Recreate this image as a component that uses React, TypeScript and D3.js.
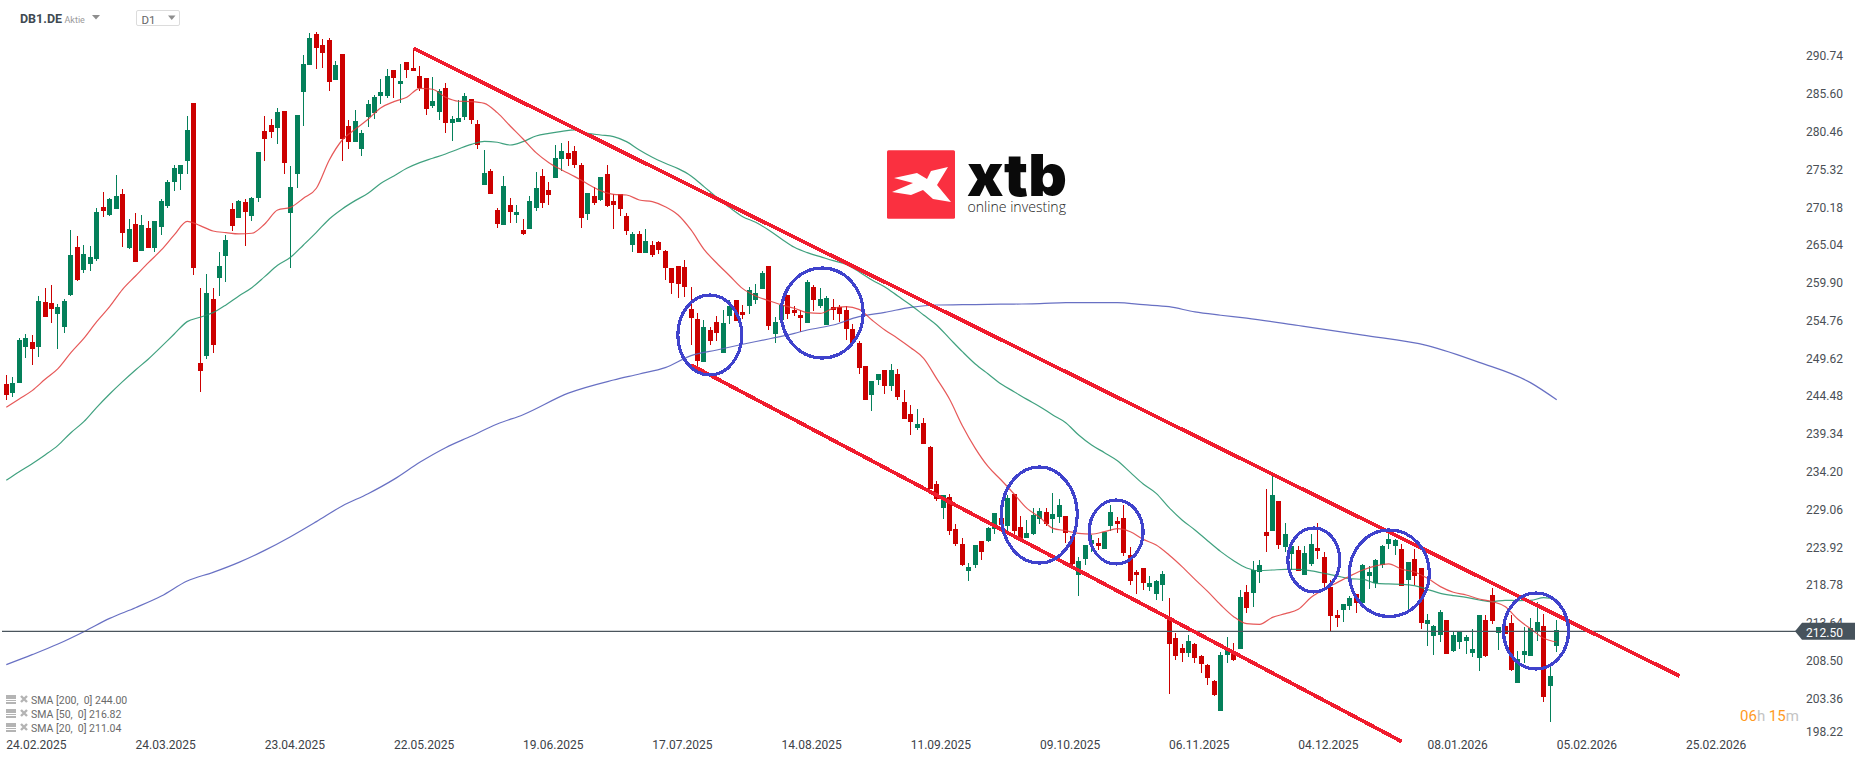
import * as d3 from 'd3';

const width = 1866;
const height = 761;

// daily candles
const opens = [
    246.15, 244.92, 246.28, 251.18, 251.86, 251.18, 257.3, 257.17, 255.67, 253.9,
    258.26, 264.79, 261.66, 262.47, 263.15, 270.23, 269.14, 269.96, 272.0, 264.65,
    267.92, 264.24, 267.37, 264.65, 267.51, 270.36, 273.63, 274.72, 276.49, 284.38,
    249.0, 249.96, 257.71, 260.57, 263.56, 269.96, 268.73, 270.91, 269.0, 271.45,
    280.57, 281.38, 280.98, 283.29, 269.41, 274.72, 285.87, 289.55, 293.77, 292.27,
    292.95, 287.51, 291.04, 281.25, 279.07, 278.12, 282.47, 283.02, 285.33, 285.33,
    288.87, 286.96, 289.96, 289.14, 288.05, 287.78, 283.97, 283.15, 286.42, 281.66,
    281.79, 282.47, 284.92, 281.52, 273.22, 275.13, 269.82, 267.78, 270.5, 269.14,
    267.1, 267.24, 270.09, 274.45, 272.54, 274.18, 276.76, 277.58, 277.85, 275.94,
    269.28, 271.73, 271.18, 274.72, 271.05, 272.0, 269.01, 265.06, 266.56, 263.97,
    265.06, 265.47, 264.24, 261.93, 262.2, 262.07, 256.35, 254.99, 249.14, 253.5,
    254.58, 250.37, 255.4, 257.58, 255.94, 256.76, 257.58, 259.07, 262.2, 252.95,
    254.86, 258.26, 256.22, 255.54, 254.44, 259.34, 256.75, 254.17, 256.62, 256.62,
    256.21, 253.62, 251.72, 248.59, 244.64, 246.68, 248.05, 245.87, 247.5, 243.69,
    242.06, 240.15, 240.84, 237.57, 232.54, 229.27, 230.77, 226.41, 224.37, 220.7,
    221.52, 224.78, 224.78, 226.41, 227.91, 226.82, 231.18, 226.69, 225.19, 225.73,
    227.77, 228.73, 227.77, 228.05, 228.18, 225.46, 220.16, 222.33, 224.37, 224.51,
    223.69, 226.82, 227.5, 227.91, 222.88, 220.56, 221.11, 218.52, 217.57, 218.79,
    214.31, 211.59, 210.23, 209.55, 210.78, 209.14, 207.92, 205.74, 201.66, 209.28,
    209.69, 210.1, 217.85, 217.71, 220.57, 226.01, 226.15, 230.23, 223.97, 223.02,
    223.56, 220.16, 221.66, 223.84, 222.61, 218.53, 214.72, 215.4, 215.95, 217.58,
    216.35, 220.03, 219.08, 221.52, 224.38, 224.11, 223.7, 219.48, 222.34, 221.12,
    213.5, 211.86, 212.0, 214.04, 209.82, 211.05, 211.18, 209.55, 208.87, 214.04,
    217.44, 212.27, 213.23, 213.63, 205.47, 209.28, 209.14, 212.41, 213.23, 205.06, 210.5
];
const closes = [
    244.65, 246.28, 252.13, 252.41, 250.91, 257.44, 255.26, 256.35, 256.62, 257.44,
    263.7, 260.3, 263.83, 263.43, 269.55, 269.68, 271.32, 271.73, 266.69, 267.24,
    262.75, 267.78, 264.65, 268.32, 271.05, 273.63, 275.53, 275.94, 280.7, 261.93,
    247.92, 258.53, 251.45, 262.2, 265.74, 267.64, 271.05, 269.55, 271.45, 277.71,
    279.48, 280.43, 283.15, 276.22, 272.95, 282.75, 289.68, 293.22, 291.86, 291.18,
    287.23, 289.55, 279.48, 279.07, 281.93, 280.3, 284.24, 285.19, 285.87, 288.05,
    287.78, 287.37, 288.87, 288.73, 286.42, 283.56, 284.65, 286.01, 281.66, 282.2,
    282.34, 285.33, 282.07, 278.66, 274.86, 272.0, 267.92, 273.09, 269.55, 269.55,
    266.56, 271.05, 272.81, 270.77, 271.86, 276.9, 277.85, 276.76, 275.94, 268.73,
    272.13, 270.77, 274.31, 270.37, 270.5, 269.96, 266.96, 266.56, 263.97, 265.6,
    263.7, 264.38, 261.93, 259.89, 259.75, 259.35, 255.13, 249.28, 253.9, 252.0,
    253.09, 254.45, 256.76, 254.72, 255.54, 258.94, 258.53, 261.25, 254.04, 254.58,
    256.9, 255.67, 255.81, 255.13, 260.06, 257.57, 257.71, 257.84, 256.21, 255.66,
    253.62, 251.67, 248.32, 243.96, 246.55, 247.5, 245.87, 248.05, 244.37, 241.38,
    240.97, 240.7, 237.98, 231.86, 230.49, 231.04, 226.14, 224.37, 221.52, 221.24,
    224.24, 223.28, 226.55, 228.59, 226.96, 230.63, 226.14, 225.19, 225.87, 228.32,
    228.86, 227.09, 228.45, 229.68, 225.87, 221.65, 222.06, 224.24, 224.92, 224.1,
    226.01, 228.73, 227.09, 223.15, 219.34, 220.16, 219.07, 219.07, 219.34, 220.29,
    210.78, 209.14, 209.55, 211.18, 208.87, 208.05, 206.15, 203.84, 209.28, 210.23,
    208.6, 217.17, 215.67, 220.84, 221.52, 225.47, 231.05, 224.24, 225.74, 224.11,
    220.71, 223.16, 224.38, 223.43, 219.08, 214.59, 214.31, 216.22, 217.03, 216.35,
    221.52, 220.57, 222.2, 224.11, 225.06, 224.93, 218.67, 221.93, 220.03, 213.63,
    214.04, 213.23, 215.13, 209.42, 212.0, 212.41, 211.73, 210.1, 214.72, 209.14,
    213.91, 213.09, 212.14, 207.24, 208.74, 209.82, 212.95, 213.77, 203.57, 206.42, 212.68
];
const highs = [
    247.37, 247.05, 252.36, 252.95, 252.81, 258.12, 259.21, 259.62, 257.03, 257.71,
    267.1, 266.28, 265.06, 264.92, 270.09, 272.27, 271.45, 274.58, 272.68, 268.6,
    269.41, 269.14, 268.32, 268.32, 271.32, 273.9, 275.94, 275.94, 282.61, 284.38,
    259.21, 261.11, 259.21, 264.11, 266.42, 270.77, 271.18, 271.32, 271.59, 277.71,
    282.61, 282.2, 283.7, 283.29, 275.81, 282.75, 290.91, 293.9, 294.04, 293.09,
    293.22, 290.09, 291.04, 282.06, 283.43, 280.7, 284.79, 285.47, 287.64, 289.0,
    288.87, 289.68, 289.96, 291.86, 289.41, 287.78, 287.92, 286.28, 287.1, 282.61,
    284.79, 285.74, 284.92, 282.07, 277.98, 275.4, 270.09, 274.45, 271.45, 270.5,
    268.6, 271.73, 274.99, 275.4, 273.63, 278.66, 278.94, 279.21, 278.53, 276.22,
    272.13, 272.95, 274.31, 275.94, 272.0, 272.0, 269.41, 266.83, 266.96, 267.24,
    265.6, 265.6, 264.38, 261.93, 262.2, 263.02, 259.35, 255.81, 254.86, 253.9,
    255.4, 256.22, 257.58, 257.58, 256.9, 259.35, 259.75, 261.52, 262.2, 255.26,
    257.71, 258.26, 256.76, 256.22, 260.29, 259.61, 259.2, 258.11, 257.71, 256.89,
    256.75, 254.3, 251.99, 248.59, 246.55, 247.5, 248.05, 248.86, 248.18, 245.32,
    243.28, 242.74, 241.52, 237.71, 232.94, 231.04, 231.18, 227.09, 225.19, 221.79,
    224.24, 224.78, 226.69, 228.59, 227.91, 231.04, 231.18, 228.18, 227.64, 229.27,
    229.27, 229.27, 231.31, 230.49, 228.18, 225.46, 222.6, 224.24, 225.6, 225.19,
    226.01, 229.68, 228.05, 229.68, 223.96, 220.84, 221.11, 220.02, 219.47, 220.7,
    217.03, 212.27, 210.78, 212.0, 210.91, 209.28, 208.05, 205.88, 209.69, 211.73,
    210.91, 218.12, 218.8, 222.07, 222.2, 231.86, 233.77, 230.23, 227.24, 224.11,
    224.11, 224.11, 225.74, 227.24, 223.29, 219.48, 215.4, 216.22, 217.31, 217.58,
    221.66, 221.39, 222.34, 224.25, 225.88, 225.06, 224.38, 221.93, 223.7, 221.12,
    214.86, 213.36, 215.4, 214.04, 212.41, 212.41, 212.0, 212.82, 214.72, 214.72,
    218.4, 213.09, 213.77, 214.72, 209.82, 213.09, 214.31, 216.49, 214.86, 207.92, 214.04
];
const lows = [
    243.97, 244.42, 246.28, 249.73, 248.73, 249.82, 255.26, 254.45, 250.91, 253.09,
    258.12, 260.16, 261.25, 261.52, 262.88, 268.87, 269.0, 269.96, 264.79, 264.51,
    262.75, 264.24, 264.65, 264.11, 266.42, 270.09, 272.41, 272.54, 274.72, 260.98,
    245.06, 249.55, 250.37, 258.12, 260.02, 266.96, 268.73, 264.92, 268.32, 270.91,
    276.49, 279.62, 278.8, 274.72, 261.93, 272.81, 281.25, 289.55, 289.0, 289.14,
    286.01, 287.51, 276.49, 278.12, 279.07, 277.17, 281.11, 282.2, 284.24, 285.06,
    285.06, 284.33, 287.78, 288.73, 286.01, 282.75, 283.7, 282.07, 280.3, 279.21,
    281.79, 282.07, 281.52, 278.12, 273.22, 272.0, 267.37, 267.78, 268.05, 268.05,
    266.42, 267.24, 269.69, 270.09, 270.5, 274.18, 275.13, 275.81, 275.54, 267.37,
    268.46, 270.5, 271.05, 270.23, 267.24, 269.01, 266.42, 264.11, 263.97, 263.97,
    263.43, 263.84, 260.3, 258.39, 257.85, 257.99, 251.45, 248.6, 249.14, 251.45,
    252.0, 250.37, 254.31, 254.72, 254.99, 255.67, 257.03, 259.07, 253.5, 251.73,
    254.31, 254.99, 255.4, 253.26, 254.44, 256.07, 256.48, 254.17, 254.85, 254.58,
    252.13, 251.67, 247.5, 243.96, 242.47, 246.0, 244.78, 245.19, 243.96, 241.38,
    239.2, 239.88, 237.98, 231.86, 230.22, 227.77, 225.6, 224.1, 221.38, 219.34,
    221.11, 222.2, 224.64, 225.73, 226.28, 225.6, 225.46, 225.19, 225.19, 225.6,
    227.09, 226.82, 225.87, 227.23, 224.51, 221.52, 217.3, 221.52, 223.28, 223.56,
    223.69, 226.14, 225.87, 222.74, 218.79, 217.57, 218.11, 217.98, 216.75, 216.63,
    203.97, 208.6, 208.33, 209.01, 208.19, 206.83, 205.2, 203.7, 201.66, 208.19,
    208.46, 210.1, 214.99, 215.81, 219.08, 223.29, 226.15, 223.7, 223.29, 220.84,
    220.71, 220.16, 221.39, 222.34, 218.53, 212.54, 213.09, 213.77, 215.4, 214.99,
    216.35, 218.26, 218.4, 221.12, 223.7, 222.88, 218.67, 215.54, 218.8, 212.82,
    210.5, 209.28, 211.05, 209.42, 209.69, 210.1, 209.42, 209.01, 207.1, 209.01,
    213.5, 209.96, 212.14, 207.1, 205.47, 208.19, 209.14, 211.18, 202.89, 200.16, 209.69
];

// moving averages, one reading every second bar
const sma20 = [
    242.97, 244.11, 245.24, 246.78, 248.23, 250.41, 252.36, 254.63, 256.67, 259.03,
    260.84, 262.66, 264.38, 266.42, 268.28, 267.69, 266.96, 266.74, 266.56, 266.65,
    267.92, 269.82, 270.18, 271.41, 272.77, 276.62, 279.34, 280.8, 282.16, 283.74,
    284.56, 285.15, 286.37, 286.24, 285.15, 284.61, 284.56, 284.33, 283.06, 281.25,
    279.48, 277.62, 276.26, 275.26, 274.36, 273.36, 272.45, 271.95, 271.86, 271.18,
    270.95, 270.27, 269.14, 267.1, 264.47, 262.57, 260.84, 259.12, 258.12, 257.49,
    256.9, 256.45, 255.85, 255.75, 256.44, 256.66, 256.3, 254.85, 253.49, 252.35,
    251.08, 249.63, 246.91, 244.1, 240.47, 237.39, 234.89, 233.08, 231.18, 229.22,
    228.0, 226.5, 226.19, 225.82, 225.73, 226.05, 226.46, 226.05, 225.01, 224.24,
    222.88, 221.3, 219.57, 217.9, 216.08, 214.49, 213.54, 213.45, 214.4, 214.9,
    215.49, 217.12, 218.21, 219.12, 220.03, 220.84, 221.39, 221.66, 220.94, 220.57,
    219.71, 218.58, 217.81, 217.44, 216.9, 216.54, 215.86, 214.13, 212.82, 211.55, 211.04
];
const sma50 = [
    233.04, 234.22, 235.31, 236.49, 237.8, 239.52, 241.02, 242.97, 244.78, 246.46,
    248.05, 249.55, 251.23, 252.95, 254.63, 255.22, 255.85, 256.9, 258.12, 259.25,
    260.75, 262.29, 263.38, 265.06, 266.78, 268.6, 269.96, 271.09, 272.09, 273.45,
    274.45, 275.49, 276.26, 276.85, 277.44, 278.12, 278.75, 279.16, 279.03, 278.66,
    279.12, 279.89, 280.25, 280.52, 280.71, 280.25, 280.02, 279.8, 279.12, 277.98,
    276.99, 276.17, 275.44, 274.45, 273.0, 271.54, 270.14, 268.91, 268.14, 267.1,
    265.88, 264.74, 264.01, 263.47, 262.92, 262.42, 261.43, 260.29, 259.34, 258.11,
    256.89, 255.53, 254.17, 252.35, 250.54, 248.86, 247.5, 246.14, 245.1, 244.05,
    243.06, 241.92, 240.88, 239.2, 237.84, 236.8, 235.71, 234.12, 232.53, 231.27,
    229.32, 227.65, 226.29, 224.79, 223.34, 222.11, 221.12, 220.75, 220.84, 220.93,
    220.93, 220.71, 220.39, 220.03, 219.66, 219.57, 219.03, 218.94, 218.89, 218.71,
    218.21, 217.67, 217.35, 217.12, 216.76, 216.54, 216.72, 216.67, 216.72, 217.08, 216.82
];
const smaBars = d3.range(0, 241, 2);

const sma200Bars = [
    0, 4, 8, 12, 16, 20, 24, 28, 32, 36, 40, 44, 48, 52, 56, 60, 64, 68, 72, 76, 80, 87, 94, 98, 102, 106, 110,
    114, 118, 122, 124, 128, 132, 136, 140, 144, 148, 152, 156, 160, 164, 168, 172, 176, 180, 184, 188, 192,
    200, 210, 220, 228, 236, 240
];
const sma200 = [
    207.96, 209.32, 210.77, 212.45, 214.26, 215.71, 217.3, 219.34, 220.52, 221.88, 223.51, 225.37, 227.42,
    229.55, 231.22, 233.17, 235.49, 237.48, 239.07, 240.7, 241.97, 244.9, 246.69, 247.51, 248.37, 250.0,
    250.77, 251.55, 252.27, 253.04, 253.49, 254.17, 255.3, 255.89, 256.57, 256.89, 256.93, 256.98, 257.02,
    257.07, 257.21, 257.21, 257.21, 256.93, 256.66, 255.95, 255.5, 255.1, 254.1, 252.8, 251.37, 249.09,
    246.3, 244.0
];

const lastPrice = 212.5;
const priceTicks = [
    290.74, 285.6, 280.46, 275.32, 270.18, 265.04, 259.9, 254.76, 249.62, 244.48, 239.34, 234.2, 229.06, 223.92,
    218.78, 213.64, 208.5, 203.36, 198.22
];
const dateLabels = [
    '24.02.2025', '24.03.2025', '23.04.2025', '22.05.2025', '19.06.2025', '17.07.2025', '14.08.2025',
    '11.09.2025', '09.10.2025', '06.11.2025', '04.12.2025', '08.01.2026', '05.02.2026', '25.02.2026'
];
const legendLabels = ['SMA [200,  0] 244.00', 'SMA [50,  0] 216.82', 'SMA [20,  0] 211.04'];

// hand drawn channel, [bar, price] at both ends
const upperChannelBars = [63, 259];
const upperChannelPrices = [291.82, 206.42];
const lowerChannelBars = [106, 216];
const lowerChannelPrices = [248.73, 197.5];

// hand drawn circles
const circleBars = [108.9, 126.3, 159.9, 171.8, 202.4, 214.1, 236.8];
const circlePrices = [252.81, 255.8, 228.32, 226.01, 222.2, 220.39, 212.54];
const circleBarRadii = [4.95, 6.35, 5.88, 4.18, 4.02, 6.19, 5.03];
const circlePriceRadii = [5.44, 6.12, 6.53, 4.35, 4.35, 5.89, 5.17];

const green = '#04805a';
const red = '#cc0000';
const font = 'Roboto, sans-serif';

const x = d3.scaleLinear().domain([0, 240]).range([6.3, 1556.7]);
const y = d3.scaleLinear().domain([lastPrice, 290.74]).range([631.3, 56.2]);

const smaLine = d3
    .line<[number, number]>()
    .x((d) => x(d[0]))
    .y((d) => y(d[1]))
    .curve(d3.curveMonotoneX);

function zipLine(bars: number[], values: number[]) {
    return smaLine(bars.map((b, i) => [b, values[i]] as [number, number])) as string;
}

function LegendRow({ label, top }: { label: string; top: number }) {
    return (
        <g>
            <rect x={6} y={top - 5} width={10} height={4} fill="#b4b4b4" />
            <rect x={6} y={top} width={10} height={1} fill="#b4b4b4" />
            <rect x={6} y={top + 2} width={10} height={2} fill="#b4b4b4" />
            <path
                d={`M21 ${top - 4}L27 ${top + 2}M27 ${top - 4}L21 ${top + 2}`}
                stroke="#b4b4b4"
                strokeWidth={2.4}
                fill="none"
            />
            <text x={31} y={top + 4} fontFamily={font} fontSize={10.5} fill="#6a6a6a" style={{ whiteSpace: 'pre' }}>
                {label}
            </text>
        </g>
    );
}

function Logo() {
    return (
        <g>
            <rect x={887} y={150.3} width={68} height={68.4} rx={1.5} fill="#fa3040" />
            <polygon
                points="948,167 937,185 951,202 933,199 923,190 911,195 892,192 913,183 894,178 917,173 927,179 931,171"
                fill="#fff"
            />
            <text
                x={967}
                y={196}
                fontFamily="Inter, sans-serif"
                fontWeight={900}
                fontSize={58}
                textLength={100}
                lengthAdjust="spacingAndGlyphs"
                fill="#0a0a0a"
            >
                xtb
            </text>
            <text
                x={967.5}
                y={212}
                fontFamily="'Open Sans', sans-serif"
                fontWeight={300}
                fontSize={14}
                textLength={98.5}
                lengthAdjust="spacingAndGlyphs"
                fill="#222"
            >
                online investing
            </text>
        </g>
    );
}

export default function App() {
    const lineY = y(lastPrice);

    return (
        <svg
            width={width}
            height={height}
            viewBox={`0 0 ${width} ${height}`}
            style={{ position: 'fixed', left: 0, top: 0, display: 'block', background: '#fff' }}
        >
            <Logo />

            {/* header */}
            <text x={20} y={23} fontFamily={font} fontWeight={700} fontSize={12.5} fill="#3f4a52">
                DB1.DE
            </text>
            <text x={64.5} y={22.5} fontFamily={font} fontSize={9} fill="#9a9a9a">
                Aktie
            </text>
            <polygon points="92,15 100,15 96,19.5" fill="#8e8e8e" />
            <rect x={136.5} y={10.5} width={43} height={15} rx={1.5} fill="#fff" stroke="#dcdcdc" />
            <text x={141.5} y={23.5} fontFamily={font} fontSize={11.5} fill="#666">
                D1
            </text>
            <polygon points="168,15.5 175.5,15.5 171.75,20" fill="#8e8e8e" />

            {/* candles */}
            <g shapeRendering="crispEdges">
                {opens.map((open, i) => {
                    const close = closes[i];
                    const fill = close >= open ? green : red;
                    const left = Math.round(x(i) - 2.5);
                    const top = y(Math.max(open, close));
                    const bottom = y(Math.min(open, close));
                    return (
                        <g key={i} fill={fill}>
                            <rect x={left + 2} y={y(highs[i])} width={1} height={y(lows[i]) - y(highs[i])} />
                            <rect x={left} y={top} width={5} height={Math.max(bottom - top, 1)} />
                        </g>
                    );
                })}
            </g>

            {/* moving averages */}
            <path d={zipLine(sma200Bars, sma200)} fill="none" stroke="#5860bd" strokeWidth={1.2} opacity={0.9} />
            <path d={zipLine(smaBars, sma50)} fill="none" stroke="#1f9068" strokeWidth={1.2} opacity={0.85} />
            <path d={zipLine(smaBars, sma20)} fill="none" stroke="#e23b3b" strokeWidth={1.2} opacity={0.85} />

            {/* last price */}
            <line x1={2} x2={1796} y1={lineY} y2={lineY} stroke="#4a555d" strokeWidth={1.2} />

            {/* channel */}
            <g shapeRendering="crispEdges" stroke="#f01c2e" strokeWidth={3.8}>
                <line
                    x1={x(upperChannelBars[0])}
                    y1={y(upperChannelPrices[0])}
                    x2={x(upperChannelBars[1])}
                    y2={y(upperChannelPrices[1])}
                />
                <line
                    x1={x(lowerChannelBars[0])}
                    y1={y(lowerChannelPrices[0])}
                    x2={x(lowerChannelBars[1])}
                    y2={y(lowerChannelPrices[1])}
                />
            </g>

            <g shapeRendering="crispEdges" fill="none" stroke="#3f42cc" strokeWidth={3.2}>
                {circleBars.map((bar, i) => (
                    <ellipse
                        key={bar}
                        cx={x(bar)}
                        cy={y(circlePrices[i])}
                        rx={x(circleBarRadii[i]) - x(0)}
                        ry={y(0) - y(circlePriceRadii[i])}
                    />
                ))}
            </g>

            {/* price axis */}
            {priceTicks.map((tick) => (
                <text
                    key={tick}
                    x={1843}
                    y={Math.min(y(tick), 731.5)}
                    dy="0.35em"
                    textAnchor="end"
                    fontFamily={font}
                    fontSize={12}
                    fill="#4a4f55"
                >
                    {tick.toFixed(2)}
                </text>
            ))}
            <polygon
                points={`1795,${lineY} 1802,${lineY - 8.5} 1855,${lineY - 8.5} 1855,${lineY + 8.5} 1802,${lineY + 8.5}`}
                fill="#47535c"
            />
            <text x={1843} y={lineY + 1} dy="0.35em" textAnchor="end" fontFamily={font} fontSize={12} fill="#fff">
                {lastPrice.toFixed(2)}
            </text>

            {/* countdown */}
            <text x={1740} y={721} fontFamily={font} fontSize={15} fill="#ff9a1f">
                06<tspan fill="#c4c4c4">h</tspan> 15<tspan fill="#c4c4c4">m</tspan>
            </text>

            {/* date axis */}
            {dateLabels.map((label, i) => (
                <text key={label} x={x(i * 20)} y={748.5} fontFamily={font} fontSize={12} fill="#3c4248">
                    {label}
                </text>
            ))}

            {legendLabels.map((label, i) => (
                <LegendRow key={label} label={label} top={700 + i * 14} />
            ))}
        </svg>
    );
}
